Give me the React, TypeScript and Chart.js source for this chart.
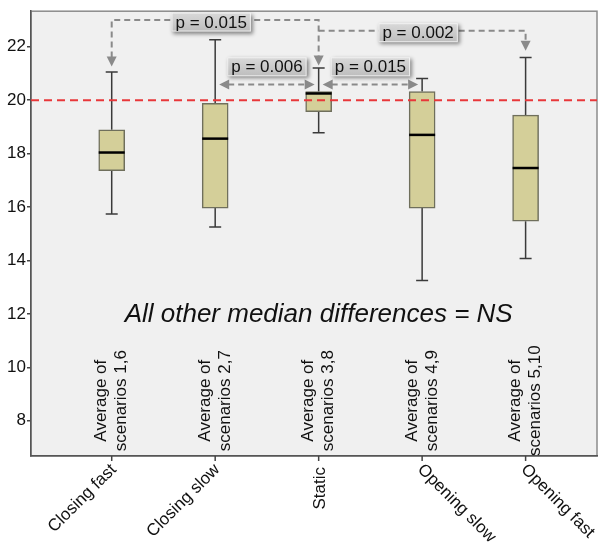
import React, { useEffect, useRef } from "react";
import { Chart, registerables } from "chart.js";

Chart.register(...registerables);

const categories = ["Closing fast", "Closing slow", "Static", "Opening slow", "Opening fast"];
const innerLabels = ["scenarios 1,6", "scenarios 2,7", "scenarios 3,8", "scenarios 4,9", "scenarios 5,10"];
const labelAngles = [-45, -45, -90, 45, 45];
const whiskerLow = [15.74, 15.25, 18.78, 13.25, 14.07];
const q1 = [17.36, 15.96, 19.57, 15.96, 15.47];
const median = [18.04, 18.56, 20.25, 18.7, 17.46];
const q3 = [18.89, 19.88, 20.32, 20.32, 19.44];
const whiskerHigh = [21.05, 22.26, 21.2, 20.81, 21.6];
const yTicks = [8, 10, 12, 14, 16, 18, 20, 22];
const referenceValue = 20;

// bracket annotations: from/to category index, level of the bracket, arrow tip values
const bracketFrom = [0, 2];
const bracketTo = [2, 4];
const bracketLevel = [23.0, 22.6];
const bracketTipFrom = [21.26, null];
const bracketTipTo = [21.3, 21.85];
const bracketLabels = ["p = 0.015", "p = 0.002"];

// horizontal double arrows
const hArrowFrom = [1, 2];
const hArrowTo = [2, 3];
const hArrowLevel = [20.59, 20.59];
const hArrowLabels = ["p = 0.006", "p = 0.015"];
const hArrowLabelLevel = [21.25, 21.25];

const FONT = '"Liberation Sans", Arial, sans-serif';

function drawArrowHead(ctx: CanvasRenderingContext2D, x: number, y: number, dir: string) {
  const L = 10, W = 5;
  ctx.save();
  ctx.setLineDash([]);
  ctx.fillStyle = "#8a8a8a";
  ctx.beginPath();
  if (dir === "down") {
    ctx.moveTo(x, y); ctx.lineTo(x - W, y - L); ctx.lineTo(x + W, y - L);
  } else if (dir === "left") {
    ctx.moveTo(x, y); ctx.lineTo(x + L, y - W); ctx.lineTo(x + L, y + W);
  } else {
    ctx.moveTo(x, y); ctx.lineTo(x - L, y - W); ctx.lineTo(x - L, y + W);
  }
  ctx.closePath();
  ctx.fill();
  ctx.restore();
}

function drawLabelBox(ctx: CanvasRenderingContext2D, text: string, cx: number, cy: number) {
  ctx.save();
  ctx.font = `17px ${FONT}`;
  const w = ctx.measureText(text).width + 8;
  const h = 19;
  ctx.shadowColor = "rgba(0,0,0,0.45)";
  ctx.shadowBlur = 4;
  ctx.shadowOffsetX = 2;
  ctx.shadowOffsetY = 2;
  const g = ctx.createLinearGradient(0, cy - h / 2, 0, cy + h / 2);
  g.addColorStop(0, "#d9d9d9");
  g.addColorStop(1, "#bdbdbd");
  ctx.fillStyle = g;
  ctx.fillRect(cx - w / 2, cy - h / 2, w, h);
  ctx.shadowColor = "transparent";
  ctx.strokeStyle = "rgba(255,255,255,0.7)";
  ctx.lineWidth = 1;
  ctx.strokeRect(cx - w / 2 + 0.5, cy - h / 2 + 0.5, w - 1, h - 1);
  ctx.fillStyle = "#111";
  ctx.textAlign = "center";
  ctx.textBaseline = "middle";
  ctx.fillText(text, cx, cy + 1);
  ctx.restore();
}

const bgPlugin = {
  id: "bgPlugin",
  beforeDraw(chart: any) {
    const { ctx, chartArea: a } = chart;
    ctx.save();
    ctx.fillStyle = "#f0f0f0";
    ctx.fillRect(a.left, a.top, a.right - a.left, a.bottom - a.top);
    ctx.strokeStyle = "#8c8c8c";
    ctx.lineWidth = 1.5;
    ctx.strokeRect(a.left, a.top, a.right - a.left, a.bottom - a.top);
    ctx.restore();
  },
  beforeDatasetsDraw(chart: any) {
    const { ctx, scales } = chart;
    const xs = scales.x, ys = scales.y;
    ctx.save();
    // whiskers
    ctx.strokeStyle = "#3a3a3a";
    ctx.lineWidth = 1.5;
    for (let i = 0; i < categories.length; i++) {
      const x = xs.getPixelForValue(i);
      ctx.beginPath();
      ctx.moveTo(x, ys.getPixelForValue(whiskerHigh[i]));
      ctx.lineTo(x, ys.getPixelForValue(q3[i]));
      ctx.moveTo(x, ys.getPixelForValue(q1[i]));
      ctx.lineTo(x, ys.getPixelForValue(whiskerLow[i]));
      ctx.moveTo(x - 6, ys.getPixelForValue(whiskerHigh[i]));
      ctx.lineTo(x + 6, ys.getPixelForValue(whiskerHigh[i]));
      ctx.moveTo(x - 6, ys.getPixelForValue(whiskerLow[i]));
      ctx.lineTo(x + 6, ys.getPixelForValue(whiskerLow[i]));
      ctx.stroke();
    }
    // inner rotated labels
    ctx.fillStyle = "#111";
    ctx.font = `17px ${FONT}`;
    ctx.textAlign = "center";
    ctx.textBaseline = "middle";
    for (let i = 0; i < categories.length; i++) {
      const x = xs.getPixelForValue(i);
      const y = ys.getPixelForValue(8.75);
      ctx.save();
      ctx.translate(x, y);
      ctx.rotate(-Math.PI / 2);
      ctx.fillText("Average of", 0, -10);
      ctx.fillText(innerLabels[i], 0, 10);
      ctx.restore();
    }
    // NS text
    ctx.font = `italic 26px ${FONT}`;
    ctx.fillText("All other median differences = NS", xs.getPixelForValue(2), ys.getPixelForValue(11.95));
    ctx.restore();
  },
  afterDatasetsDraw(chart: any) {
    const { ctx, chartArea: a, scales } = chart;
    const xs = scales.x, ys = scales.y;
    ctx.save();
    // medians
    ctx.strokeStyle = "#000";
    ctx.lineWidth = 2.5;
    for (let i = 0; i < categories.length; i++) {
      const x = xs.getPixelForValue(i);
      const y = ys.getPixelForValue(median[i]);
      ctx.beginPath();
      ctx.moveTo(x - 13, y);
      ctx.lineTo(x + 13, y);
      ctx.stroke();
    }
    // reference line
    ctx.strokeStyle = "#e8373a";
    ctx.lineWidth = 2;
    ctx.setLineDash([8, 5]);
    const yr = ys.getPixelForValue(referenceValue);
    ctx.beginPath();
    ctx.moveTo(a.left, yr);
    ctx.lineTo(a.right, yr);
    ctx.stroke();

    // brackets
    ctx.strokeStyle = "#8a8a8a";
    ctx.lineWidth = 2;
    ctx.setLineDash([6, 4]);
    for (let k = 0; k < bracketFrom.length; k++) {
      const x1 = xs.getPixelForValue(bracketFrom[k]);
      const x2 = xs.getPixelForValue(bracketTo[k]);
      const yl = ys.getPixelForValue(bracketLevel[k]);
      ctx.beginPath();
      if (bracketTipFrom[k] !== null) {
        const t = ys.getPixelForValue(bracketTipFrom[k] as number);
        ctx.moveTo(x1, t - 9);
        ctx.lineTo(x1, yl);
      } else {
        ctx.moveTo(x1, yl);
      }
      ctx.lineTo(x2, yl);
      const t2 = ys.getPixelForValue(bracketTipTo[k]);
      ctx.lineTo(x2, t2 - 9);
      ctx.stroke();
      if (bracketTipFrom[k] !== null) drawArrowHead(ctx, x1, ys.getPixelForValue(bracketTipFrom[k] as number), "down");
      drawArrowHead(ctx, x2, t2, "down");
    }
    // horizontal arrows
    for (let k = 0; k < hArrowFrom.length; k++) {
      const x1 = xs.getPixelForValue(hArrowFrom[k]) + 4;
      const x2 = xs.getPixelForValue(hArrowTo[k]) - 4;
      const y = ys.getPixelForValue(hArrowLevel[k]);
      ctx.beginPath();
      ctx.moveTo(x1 + 9, y);
      ctx.lineTo(x2 - 9, y);
      ctx.stroke();
      drawArrowHead(ctx, x1, y, "left");
      drawArrowHead(ctx, x2, y, "right");
    }
    ctx.setLineDash([]);
    for (let k = 0; k < bracketFrom.length; k++) {
      const cx = (xs.getPixelForValue(bracketFrom[k]) + xs.getPixelForValue(bracketTo[k])) / 2 - 4;
      drawLabelBox(ctx, bracketLabels[k], cx, ys.getPixelForValue(bracketLevel[k]) + 2);
    }
    for (let k = 0; k < hArrowFrom.length; k++) {
      const cx = (xs.getPixelForValue(hArrowFrom[k]) + xs.getPixelForValue(hArrowTo[k])) / 2;
      drawLabelBox(ctx, hArrowLabels[k], cx, ys.getPixelForValue(hArrowLabelLevel[k]));
    }
    // x tick marks and category labels
    ctx.strokeStyle = "#444";
    ctx.lineWidth = 1.5;
    for (let i = 0; i < categories.length; i++) {
      const x = xs.getPixelForValue(i);
      ctx.beginPath();
      ctx.moveTo(x, a.bottom);
      ctx.lineTo(x, a.bottom + 5);
      ctx.stroke();
    }
    ctx.fillStyle = "#111";
    ctx.font = `17px ${FONT}`;
    ctx.textBaseline = "middle";
    for (let i = 0; i < categories.length; i++) {
      const x = xs.getPixelForValue(i);
      const ang = labelAngles[i];
      ctx.save();
      if (ang < 0) {
        ctx.translate(x + 2, a.bottom + 11);
        ctx.rotate((ang * Math.PI) / 180);
        ctx.textAlign = "right";
      } else {
        ctx.translate(x - 2, a.bottom + 11);
        ctx.rotate((ang * Math.PI) / 180);
        ctx.textAlign = "left";
      }
      ctx.fillText(categories[i], 0, 0);
      ctx.restore();
    }
    ctx.restore();
  },
};

export default function App() {
  const ref = useRef<HTMLCanvasElement | null>(null);
  useEffect(() => {
    document.body.style.margin = "0";
    if (!ref.current) return;
    const chart = new Chart(ref.current, {
      type: "bar",
      data: {
        datasets: [
          {
            data: categories.map((_, i) => ({ x: i, y: [q1[i], q3[i]] })) as any,
            backgroundColor: "#d4cf99",
            borderColor: "#6f6f5c",
            borderWidth: 1.5,
            borderSkipped: false,
            barThickness: 26,
          },
        ],
      },
      options: {
        animation: false,
        responsive: false,
        maintainAspectRatio: false,
        layout: { padding: { top: 6, right: 3, left: 0, bottom: 0 } },
        plugins: { legend: { display: false }, tooltip: { enabled: false } },
        scales: {
          x: {
            type: "linear",
            min: -0.78,
            max: 4.69,
            offset: false,
            afterBuildTicks: (s: any) => {
              s.ticks = categories.map((_, i) => ({ value: i }));
            },
            afterFit: (s: any) => {
              s.height = 86;
            },
            ticks: { callback: () => "", font: { size: 1 } },
            grid: { offset: false, drawOnChartArea: false, drawTicks: false },
            border: { display: true, color: "#555", width: 1.5 },
          },
          y: {
            min: 6.68,
            max: 23.33,
            afterBuildTicks: (s: any) => {
              s.ticks = yTicks.map((v) => ({ value: v }));
            },
            afterFit: (s: any) => {
              s.width = 31;
            },
            ticks: { color: "#111", font: { size: 17, family: FONT }, padding: 1 },
            grid: { drawOnChartArea: false, drawTicks: true, tickLength: 4, color: "#444", lineWidth: 1.5 },
            border: { display: true, color: "#555", width: 1.5 },
          },
        },
      },
      plugins: [bgPlugin],
    });
    return () => chart.destroy();
  }, []);
  return (
    <div style={{ width: 600, height: 542 }}>
      <canvas ref={ref} width={600} height={542} style={{ width: 600, height: 542, display: "block" }} />
    </div>
  );
}
